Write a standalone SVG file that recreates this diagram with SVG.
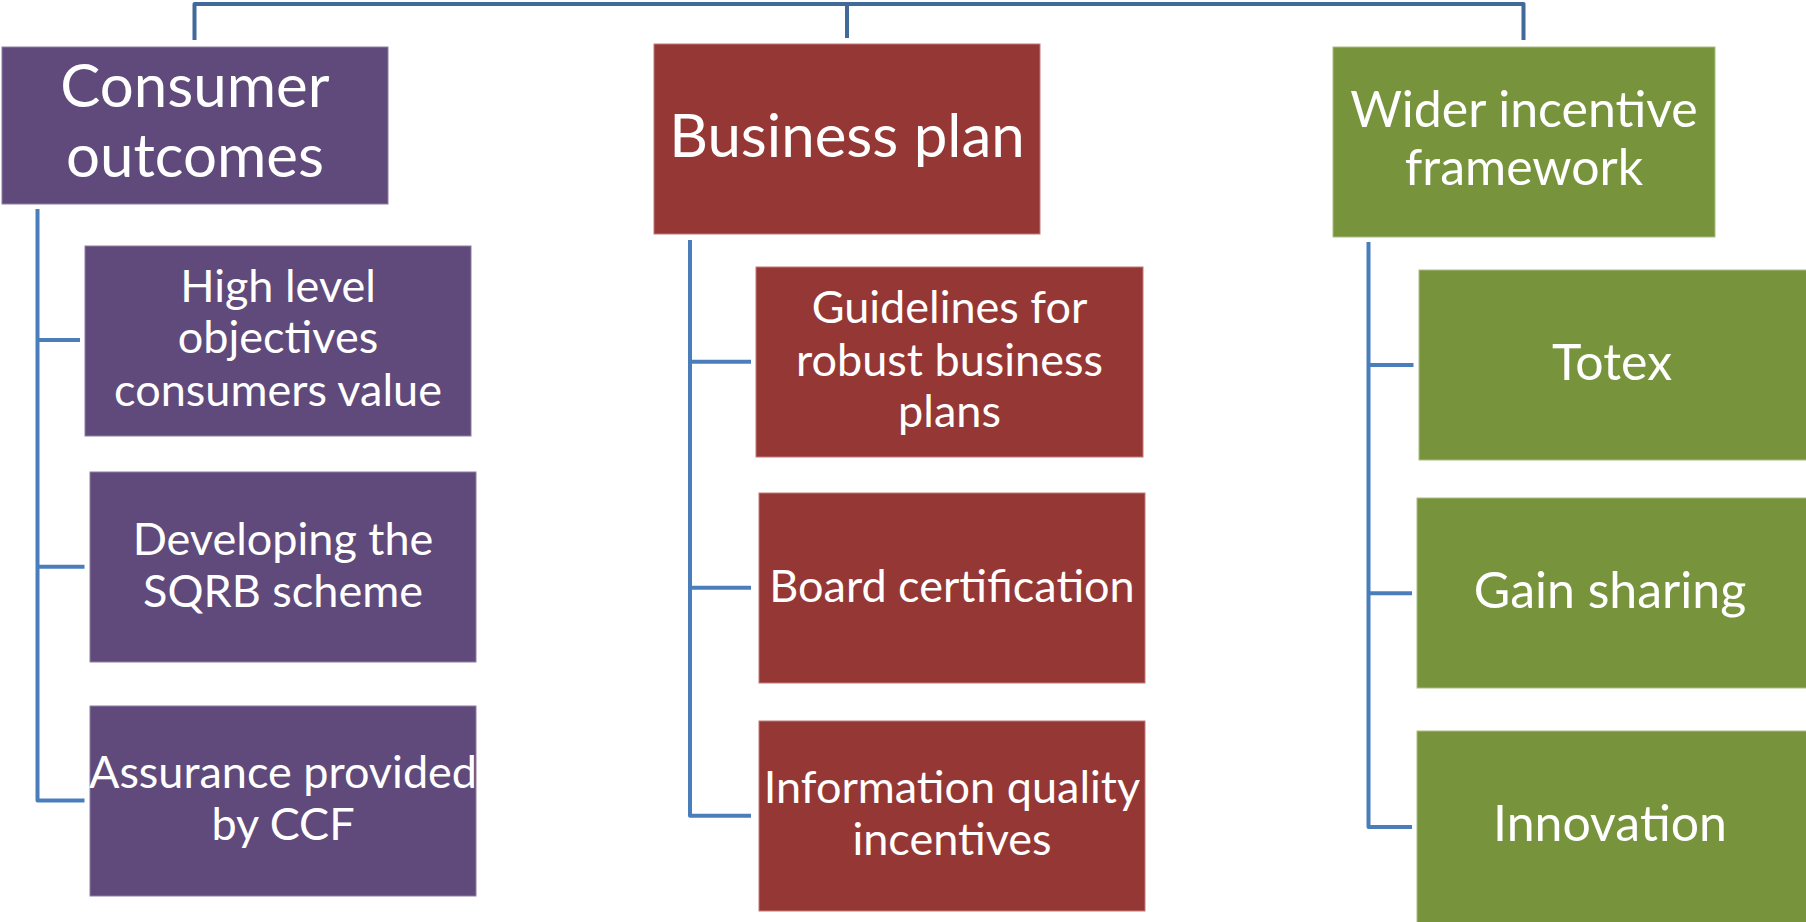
<svg xmlns="http://www.w3.org/2000/svg" width="1806" height="922" viewBox="0 0 1806 922">
<style>
.bg{fill:#ffffff}
.purple{fill:#604A7B;stroke:#8E7FA2;stroke-width:1}
.red{fill:#953735;stroke:#C07B79;stroke-width:1}
.green{fill:#77933C;stroke:#A9BE83;stroke-width:1}
text{font-family:Lato,"Open Sans","Liberation Sans",sans-serif;fill:#ffffff;text-anchor:middle}
.t62{font-size:60px}
.t52{font-size:50px}
.t47{font-size:45px}
.top{fill:none;stroke:#41699A;stroke-width:4;stroke-linejoin:round}
.br{fill:none;stroke:#4A7EBB;stroke-width:4;stroke-linejoin:round}
</style>
<rect class="bg" x="0" y="0" width="1806" height="922"/>
<g id="connectors">
<path class="top" d="M194.5,40 V4 H1523.5 V40"/>
<path class="top" d="M847,4 V38"/>
<path class="br" d="M37.5,209 V800.5 H84.5"/>
<path class="br" d="M37.5,340 H80"/>
<path class="br" d="M37.5,566.7 H84.5"/>
<path class="br" d="M690,240 V815.7 H751"/>
<path class="br" d="M690,361.7 H751"/>
<path class="br" d="M690,587.7 H751"/>
<path class="br" d="M1368.5,242 V827 H1412"/>
<path class="br" d="M1368.5,365 H1413.5"/>
<path class="br" d="M1368.5,593.3 H1412"/>
</g>
<g id="consumer-outcomes">
<rect class="purple" x="2" y="47" width="386" height="157"/>
<text class="t62" x="195" y="107">Consumer</text>
<text class="t62" x="195" y="177">outcomes</text>
</g>
<g id="high-level-objectives">
<rect class="purple" x="85" y="246" width="386" height="190"/>
<text class="t47" x="278" y="302">High level</text>
<text class="t47" x="278" y="353">objectives</text>
<text class="t47" x="278" y="406">consumers value</text>
</g>
<g id="developing-sqrb">
<rect class="purple" x="90" y="472" width="386" height="190"/>
<text class="t47" x="283" y="555">Developing the</text>
<text class="t47" x="283" y="607">SQRB scheme</text>
</g>
<g id="assurance-ccf">
<rect class="purple" x="90" y="706" width="386" height="190"/>
<text class="t47" x="283" y="788">Assurance provided</text>
<text class="t47" x="283" y="840">by CCF</text>
</g>
<g id="business-plan">
<rect class="red" x="654" y="44" width="386" height="190"/>
<text class="t62" x="847" y="157">Business plan</text>
</g>
<g id="guidelines">
<rect class="red" x="756" y="267" width="387" height="190"/>
<text class="t47" x="949.5" y="323">Guidelines for</text>
<text class="t47" x="949.5" y="376">robust business</text>
<text class="t47" x="949.5" y="427">plans</text>
</g>
<g id="board-certification">
<rect class="red" x="759" y="493" width="386" height="190"/>
<text class="t47" x="952" y="602">Board certification</text>
</g>
<g id="information-quality">
<rect class="red" x="759" y="721" width="386" height="190"/>
<text class="t47" x="952" y="803">Information quality</text>
<text class="t47" x="952" y="855">incentives</text>
</g>
<g id="wider-incentive">
<rect class="green" x="1333" y="47" width="382" height="190"/>
<text class="t52" x="1524" y="127">Wider incentive</text>
<text class="t52" x="1524" y="185">framework</text>
</g>
<g id="totex">
<rect class="green" x="1419" y="270" width="390" height="190"/>
<text class="t52" x="1612" y="380">Totex</text>
</g>
<g id="gain-sharing">
<rect class="green" x="1417" y="498" width="392" height="190"/>
<text class="t52" x="1610" y="608">Gain sharing</text>
</g>
<g id="innovation">
<rect class="green" x="1417" y="731" width="392" height="192"/>
<text class="t52" x="1610" y="841">Innovation</text>
</g>
</svg>
